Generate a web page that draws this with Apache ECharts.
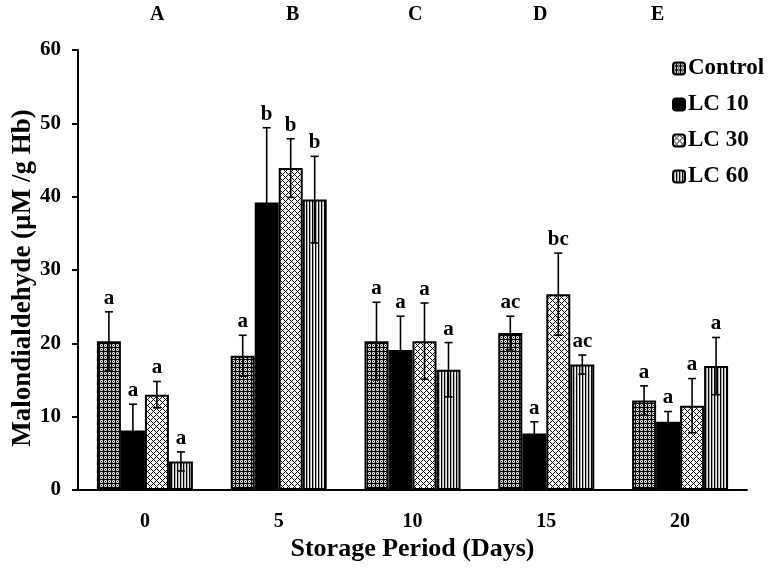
<!DOCTYPE html>
<html>
<head>
<meta charset="utf-8">
<script src="https://cdn.jsdelivr.net/npm/echarts@6/dist/echarts.min.js"></script>
<style>
  html, body { margin: 0; padding: 0; background: #fff; }
  #chart { width: 772px; height: 569px; }
</style>
</head>
<body>
<div id="chart"></div>
<script>
const days = ['0', '5', '10', '15', '20'];
const seriesNames = ['Control', 'LC 10', 'LC 30', 'LC 60'];

const control = [20.3, 18.3, 20.3, 21.4, 12.2];
const controlErr = [4.0, 2.8, 5.3, 2.3, 2.0];
const lc10 = [8.1, 39.2, 19.1, 7.7, 9.3];
const lc10Err = [3.6, 10.2, 4.6, 1.6, 1.4];
const lc30 = [13.0, 43.9, 20.3, 26.7, 11.5];
const lc30Err = [1.8, 4.0, 5.2, 5.6, 3.7];
const lc60 = [3.9, 39.6, 16.4, 17.1, 16.9];
const lc60Err = [1.3, 5.9, 3.7, 1.3, 3.9];

const controlSig = ['a', 'a', 'a', 'ac', 'a'];
const lc10Sig = ['a', 'b', 'a', 'a', 'a'];
const lc30Sig = ['a', 'b', 'a', 'bc', 'a'];
const lc60Sig = ['a', 'b', 'a', 'ac', 'a'];

const panelLetters = ['A', 'B', 'C', 'D', 'E'];

const FONT = '"Liberation Serif", "Times New Roman", serif';
const barW = 24;

// small tiles for the hatch fills
function tile(w, h, draw) {
    const c = document.createElement('canvas');
    c.width = w; c.height = h;
    draw(c.getContext('2d'));
    return { image: c, repeat: 'repeat' };
}
const dotsFill = tile(4, 4, ctx => {
    ctx.fillStyle = '#000'; ctx.fillRect(0, 0, 4, 4);
    ctx.fillStyle = '#fff';
    for (let x = 0; x < 3; x++) for (let y = 0; y < 3; y++) {
        if (!(x === 1 && y === 1) && !(x !== 1 && y !== 1)) ctx.fillRect(x, y, 1, 1);
    }
    ctx.fillStyle = '#888';
    [[0, 0], [2, 0], [0, 2], [2, 2]].forEach(p => ctx.fillRect(p[0], p[1], 1, 1));
});
const latticeFill = tile(6, 6, ctx => {
    ctx.fillStyle = '#fff'; ctx.fillRect(0, 0, 6, 6);
    ctx.fillStyle = '#000';
    for (let x = 0; x < 6; x++) for (let y = 0; y < 6; y++) {
        if ((x + y) % 6 === 0 || (x - y + 6) % 6 === 0) ctx.fillRect(x, y, 1, 1);
    }
});
const stripeFill = tile(3, 3, ctx => {
    ctx.fillStyle = '#000'; ctx.fillRect(0, 0, 1, 3);
    ctx.fillStyle = '#aaa'; ctx.fillRect(1, 0, 1, 3);
    ctx.fillStyle = '#eee'; ctx.fillRect(2, 0, 1, 3);
});
const fills = [dotsFill, '#000', latticeFill, stripeFill];

const values = [control, lc10, lc30, lc60];
const errs = [controlErr, lc10Err, lc30Err, lc60Err];
const sigs = [controlSig, lc10Sig, lc30Sig, lc60Sig];

const barSeries = seriesNames.map((name, k) => ({
    name: name,
    type: 'bar',
    barWidth: barW,
    barGap: '0%',
    itemStyle: { color: fills[k], borderColor: '#000', borderWidth: 2 },
    data: values[k]
}));

const errSeries = seriesNames.map((name, k) => ({
    name: name + ' err',
    type: 'custom',
    z: 5,
    data: values[k].map((v, i) => [i, v, errs[k][i]]),
    renderItem: (params, api) => {
        const c = api.value(0), v = api.value(1), e = api.value(2);
        const hi = api.coord([c, v + e]);
        const lo = api.coord([c, v - e]);
        const x = hi[0] + (k - 1.5) * barW;
        const cap = 4;
        const st = { stroke: '#000', lineWidth: 1.6 };
        return {
            type: 'group',
            children: [
                { type: 'line', shape: { x1: x, y1: hi[1], x2: x, y2: lo[1] }, style: st },
                { type: 'line', shape: { x1: x - cap, y1: hi[1], x2: x + cap, y2: hi[1] }, style: st },
                { type: 'line', shape: { x1: x - cap, y1: lo[1], x2: x + cap, y2: lo[1] }, style: st },
                {
                    type: 'text',
                    style: {
                        text: sigs[k][params.dataIndex], x: x, y: hi[1] - 3,
                        textAlign: 'center', textVerticalAlign: 'bottom',
                        font: 'bold 21px ' + FONT, fill: '#000'
                    }
                }
            ]
        };
    }
}));

const letterX = [157, 293, 415, 540, 658];
const chart = echarts.init(document.getElementById('chart'));
chart.setOption({
    animation: false,
    grid: { left: 78, right: 25, top: 50, bottom: 79, outerBoundsMode: 'none', containLabel: false },
    legend: {
        data: seriesNames,
        orient: 'vertical',
        left: 667,
        top: 52,
        itemWidth: 12,
        itemHeight: 12,
        itemGap: 13,
        textStyle: { fontFamily: FONT, fontWeight: 'bold', fontSize: 23, color: '#000', padding: [0, 0, 0, -2] }
    },
    xAxis: {
        type: 'category',
        data: days,
        name: 'Storage Period (Days)',
        nameLocation: 'middle',
        nameGap: 46,
        nameMoveOverlap: false,
        nameTextStyle: { fontFamily: FONT, fontWeight: 'bold', fontSize: 26, color: '#000' },
        axisLine: { lineStyle: { color: '#000', width: 2 } },
        axisTick: { length: 6, lineStyle: { color: '#000', width: 2 } },
        axisLabel: { margin: 22, fontFamily: FONT, fontWeight: 'bold', fontSize: 20, color: '#000' }
    },
    yAxis: {
        type: 'value',
        min: 0, max: 60, interval: 10,
        name: 'Malondialdehyde (µM /g Hb)',
        nameLocation: 'middle',
        nameGap: 41,
        nameMoveOverlap: false,
        nameTextStyle: { fontFamily: FONT, fontWeight: 'bold', fontSize: 27, color: '#000', padding: [0, 16, 0, 0] },
        axisLine: { show: true, lineStyle: { color: '#000', width: 2 } },
        axisTick: { show: true, length: 6, lineStyle: { color: '#000', width: 2 } },
        splitLine: { show: false },
        axisLabel: { margin: 17, fontFamily: FONT, fontWeight: 'bold', fontSize: 21, color: '#000' }
    },
    graphic: panelLetters.map((t, i) => ({
        type: 'text',
        left: letterX[i] - 7,
        top: 5,
        style: { text: t, font: 'bold 20px ' + FONT, fill: '#000' }
    })),
    series: barSeries.concat(errSeries)
});
</script>
</body>
</html>
